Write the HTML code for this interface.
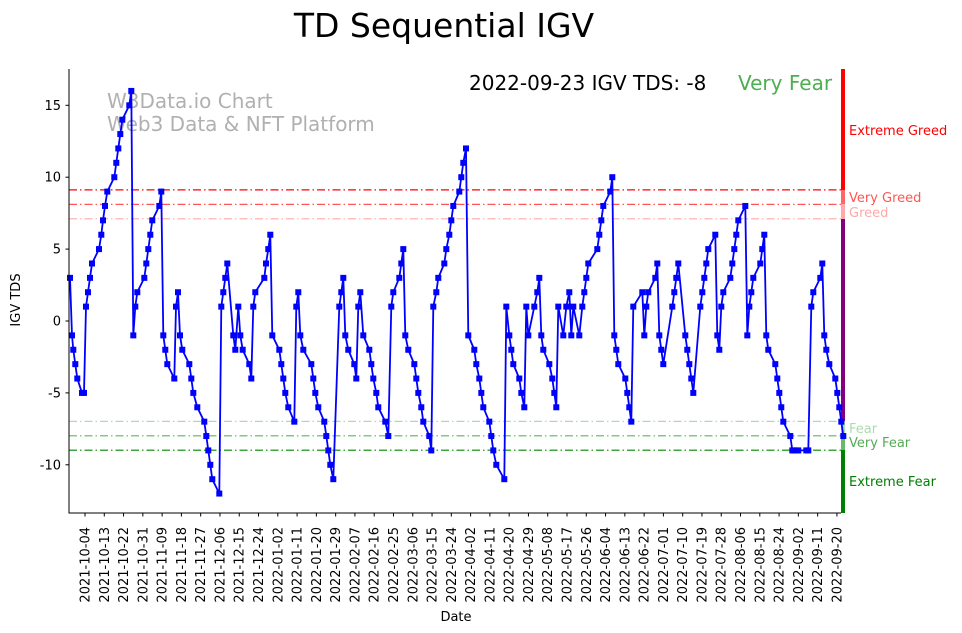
<!DOCTYPE html>
<html><head><meta charset="utf-8"><style>
body{margin:0;background:#fff;}
svg{display:block;font-family:"DejaVu Sans","Liberation Sans",sans-serif;}
</style></head><body>
<svg id="s" width="962" height="633" xmlns="http://www.w3.org/2000/svg">
<text x="444" y="37" font-size="33" text-anchor="middle">TD Sequential IGV</text>
<text x="107" y="108" font-size="20" fill="#b0b0b0">W3Data.io Chart</text>
<text x="107" y="131" font-size="20" fill="#b0b0b0">Web3 Data &amp; NFT Platform</text>
<text x="469" y="90" font-size="20">2022-09-23 IGV TDS: -8</text>
<text x="738" y="90" font-size="20" fill="#4caf50">Very Fear</text>
<g stroke-width="1.2" stroke-dasharray="8,3,1.5,3">
<line x1="69" x2="843" y1="189.9" y2="189.9" stroke="#ff0000"/>
<line x1="69" x2="843" y1="204.4" y2="204.4" stroke="#ff5555"/>
<line x1="69" x2="843" y1="218.8" y2="218.8" stroke="#ffaaaa"/>
<line x1="69" x2="843" y1="421.4" y2="421.4" stroke="#aaddaa"/>
<line x1="69" x2="843" y1="435.8" y2="435.8" stroke="#55bb55"/>
<line x1="69" x2="843" y1="450.2" y2="450.2" stroke="#008800"/>
</g>
<rect x="841" y="69" width="4" height="121" fill="#ff0000"/>
<rect x="841" y="190" width="4" height="14" fill="#ff6666"/>
<rect x="841" y="204" width="4" height="15" fill="#ffaaaa"/>
<rect x="841" y="219" width="4" height="202" fill="#800080"/>
<rect x="841" y="421" width="4" height="15" fill="#aaddaa"/>
<rect x="841" y="436" width="4" height="14" fill="#66bb66"/>
<rect x="841" y="450" width="4" height="63" fill="#008000"/>
<g font-size="13">
<text x="849" y="135" fill="#ff0000">Extreme Greed</text>
<text x="849" y="202" fill="#ff5555">Very Greed</text>
<text x="849" y="217" fill="#ffaaaa">Greed</text>
<text x="849" y="433" fill="#aaddaa">Fear</text>
<text x="849" y="447" fill="#55aa55">Very Fear</text>
<text x="849" y="486" fill="#008000">Extreme Fear</text>
</g>
<g id="series"></g>
<line x1="69" y1="69" x2="69" y2="513.5" stroke="#000" stroke-width="1"/>
<line x1="68.5" y1="513" x2="841" y2="513" stroke="#000" stroke-width="1"/>
<g id="yt" font-size="13" text-anchor="end"></g>
<g id="xt" font-size="13"></g>
<text transform="translate(20,300) rotate(-90)" font-size="13" text-anchor="middle">IGV TDS</text>
<text x="456" y="621" font-size="13" text-anchor="middle">Date</text>
</svg>
<script>
var pts=[[70,3],[72,-1],[73.3,-2],[75.3,-3],[77.3,-4],[82,-5],[84,-5],[86,1],[88,2],[90,3],[92,4],[99,5],[101.3,6],[103,7],[105,8],[107.3,9],[114.3,10],[116.3,11],[118.3,12],[120.3,13],[122.3,14],[129.3,15],[131.3,16],[133.3,-1],[135.3,1],[137.3,2],[144.3,3],[146.3,4],[148.3,5],[150.3,6],[152.3,7],[159.3,8],[161.3,9],[163.3,-1],[165.3,-2],[167.3,-3],[174.3,-4],[176,1],[178,2],[180,-1],[182.3,-2],[189.3,-3],[191.3,-4],[193.3,-5],[197.3,-6],[204.3,-7],[206.3,-8],[208.3,-9],[210.3,-10],[212.3,-11],[219.3,-12],[221.3,1],[223.3,2],[225.3,3],[227.3,4],[233.3,-1],[235.3,-2],[238.3,1],[240.3,-1],[242.7,-2],[249.3,-3],[251.3,-4],[253.3,1],[255.3,2],[264.3,3],[266,4],[268.3,5],[270.3,6],[272.3,-1],[279.3,-2],[281.3,-3],[283.3,-4],[285.3,-5],[288.3,-6],[294.3,-7],[296.3,1],[298.3,2],[300.3,-1],[303.3,-2],[311.3,-3],[313.3,-4],[315.3,-5],[318.3,-6],[324.3,-7],[326.3,-8],[328.3,-9],[330.3,-10],[333.3,-11],[339.3,1],[341.3,2],[343.3,3],[345.3,-1],[348.3,-2],[354.3,-3],[356.3,-4],[358.3,1],[360.3,2],[363.3,-1],[369.3,-2],[371.3,-3],[373.3,-4],[376.3,-5],[378.3,-6],[385.3,-7],[388.3,-8],[391.3,1],[393.3,2],[399.3,3],[401.3,4],[403.3,5],[405.3,-1],[408.3,-2],[414.3,-3],[416.3,-4],[418.3,-5],[421.3,-6],[423.3,-7],[429.3,-8],[431.3,-9],[433.3,1],[436.3,2],[438.3,3],[444.3,4],[446.3,5],[449.3,6],[451.3,7],[453.3,8],[459.3,9],[461.3,10],[463.3,11],[466,12],[468.3,-1],[474.3,-2],[476.3,-3],[479.3,-4],[481.3,-5],[483.3,-6],[489.3,-7],[491.3,-8],[493.3,-9],[496.3,-10],[504.3,-11],[506.3,1],[509.3,-1],[511.3,-2],[513.3,-3],[519.3,-4],[521.3,-5],[524.3,-6],[526.3,1],[528.3,-1],[534.3,1],[537.3,2],[539.3,3],[541.3,-1],[543.3,-2],[549.3,-3],[552.3,-4],[554.3,-5],[556.3,-6],[558.3,1],[563.3,-1],[566.3,1],[569.3,2],[571.3,-1],[573.3,1],[579.3,-1],[582.3,1],[584.3,2],[586.3,3],[588.3,4],[597.3,5],[599.3,6],[601.3,7],[603.3,8],[610.3,9],[612.3,10],[614.3,-1],[616.3,-2],[618.3,-3],[625.3,-4],[627.3,-5],[629.3,-6],[631.3,-7],[633.3,1],[642.3,2],[644.3,-1],[646.3,1],[648.3,2],[655.3,3],[657.3,4],[659.3,-1],[661.3,-2],[663.3,-3],[672.3,1],[674.3,2],[676.3,3],[678.3,4],[685.3,-1],[687.3,-2],[689.3,-3],[691.3,-4],[693.3,-5],[700.3,1],[702.3,2],[704.3,3],[706.3,4],[708.3,5],[715.3,6],[717.3,-1],[719.3,-2],[721.3,1],[723.3,2],[730.3,3],[732.3,4],[734.3,5],[736.3,6],[738.3,7],[745.3,8],[747.3,-1],[749.3,1],[751.3,2],[753.3,3],[760.3,4],[762.3,5],[764.3,6],[766.3,-1],[768.3,-2],[775.3,-3],[777.3,-4],[779.3,-5],[781.3,-6],[783.3,-7],[790.3,-8],[792.3,-9],[794.3,-9],[796.3,-9],[798.3,-9],[806.3,-9],[808.3,-9],[811.3,1],[813.3,2],[820.3,3],[822.3,4],[824.3,-1],[826.3,-2],[829.3,-3],[835.3,-4],[837.3,-5],[839.3,-6],[841.3,-7],[843.3,-8]];
function Y(v){return 321-14.38*v;}
var ns="http://www.w3.org/2000/svg",g=document.getElementById('series');
var d=pts.map(function(p,i){return (i?'L':'M')+p[0]+' '+Y(p[1]).toFixed(1);}).join(' ');
var pa=document.createElementNS(ns,'path');pa.setAttribute('d',d);pa.setAttribute('fill','none');pa.setAttribute('stroke','#0000ff');pa.setAttribute('stroke-width','1.8');g.appendChild(pa);
pts.forEach(function(p){var r=document.createElementNS(ns,'rect');r.setAttribute('x',p[0]-3);r.setAttribute('y',Y(p[1])-3);r.setAttribute('width',6);r.setAttribute('height',6);r.setAttribute('fill','#0000ff');g.appendChild(r);});
var yt=document.getElementById('yt');
[15,10,5,0,-5,-10].forEach(function(v){var y=Y(v);yt.innerHTML+='<line x1="65.5" x2="69" y1="'+y+'" y2="'+y+'" stroke="#000"/><text x="61" y="'+(y+4.5)+'">'+v+'</text>';});
var xt=document.getElementById('xt');var t0=Date.UTC(2021,9,4);
for(var i=0;i<40;i++){var x=85+i*19.28;var dt=new Date(t0+i*9*86400000);var s=dt.toISOString().slice(0,10);
xt.innerHTML+='<line x1="'+x+'" x2="'+x+'" y1="513" y2="516.5" stroke="#000"/><text transform="translate('+(x+4.5)+',527) rotate(-90)" text-anchor="end">'+s+'</text>';}
</script>
</body></html>
